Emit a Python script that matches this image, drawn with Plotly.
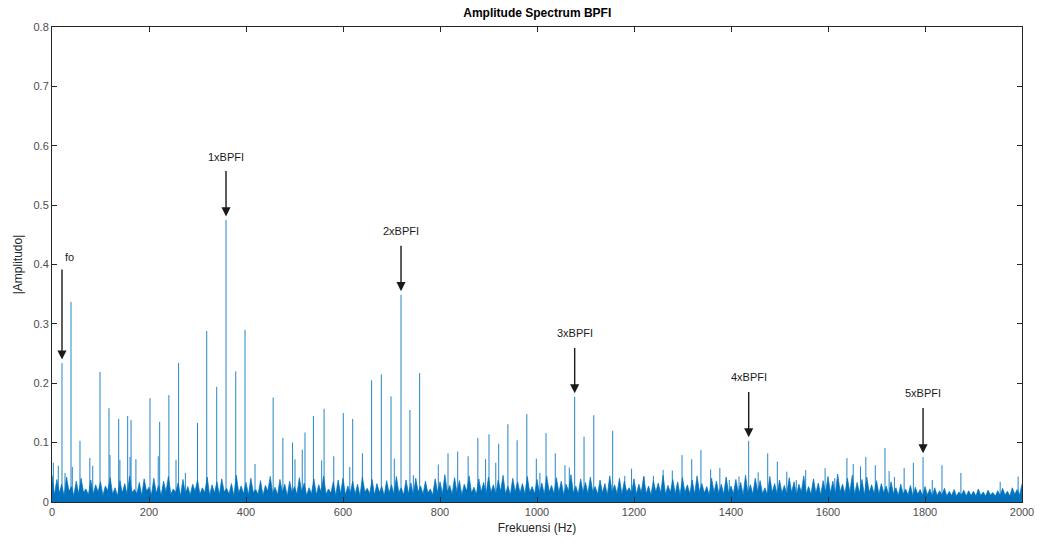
import plotly.graph_objects as go

# ---- data ----
# discrete spectral lines (Hz, |amplitude|)
peak_freq = [2.7, 13, 20.6, 26.8, 39.2, 41.9, 57.7, 78, 84, 99, 117.5, 119.6, 137.5, 140,
             156, 161, 163, 173, 202, 219, 222, 241, 255.7, 261, 275, 300, 319, 339.6,
             358.8, 378.8, 398, 418.6, 456, 476, 496, 501, 516, 521.6, 539, 556, 561,
             581, 600.6, 614, 620, 640, 659, 679, 699, 705.8, 719.6, 738, 745, 758,
             796.5, 816.5, 836.5, 858, 878, 894, 901, 915, 921, 940, 959, 979, 998.6,
             1006, 1018.6, 1037.7, 1057.7, 1066.6, 1077.7, 1097, 1117, 1156, 1181, 1195,
             1220.6, 1240, 1260, 1279, 1299, 1319, 1338, 1358, 1377, 1396.5, 1416.5,
             1436.5, 1456, 1475.7, 1495.5, 1515, 1534.6, 1554, 1594, 1614, 1639, 1652,
             1667, 1678, 1697.5, 1717.5, 1726, 1737, 1757, 1776, 1796, 1815, 1835, 1874,
             1955, 1992]
peak_amp = [0.066, 0.061, 0.234, 0.049, 0.337, 0.059, 0.103, 0.074, 0.061, 0.219, 0.158, 0.079, 0.140, 0.071,
            0.145, 0.076, 0.138, 0.072, 0.175, 0.077, 0.135, 0.180, 0.071, 0.234, 0.049, 0.133, 0.288, 0.194,
            0.475, 0.220, 0.290, 0.064, 0.176, 0.108, 0.100, 0.072, 0.088, 0.117, 0.145, 0.070, 0.157,
            0.077, 0.150, 0.059, 0.140, 0.082, 0.205, 0.215, 0.178, 0.073, 0.349, 0.155, 0.045, 0.217,
            0.063, 0.082, 0.085, 0.077, 0.108, 0.072, 0.114, 0.066, 0.098, 0.131, 0.104, 0.148, 0.073,
            0.049, 0.116, 0.082, 0.062, 0.058, 0.177, 0.110, 0.146, 0.120, 0.044, 0.056,
            0.043, 0.044, 0.054, 0.053, 0.079, 0.072, 0.0875, 0.055, 0.057, 0.037, 0.043,
            0.103, 0.050, 0.082, 0.068, 0.051, 0.037, 0.054, 0.057, 0.040, 0.074, 0.064,
            0.060, 0.076, 0.062, 0.091, 0.052, 0.042, 0.057, 0.066, 0.076, 0.037, 0.062, 0.049,
            0.034, 0.043]

# broadband noise floor, read every 5 Hz from 0 to 2000 Hz
noise_step_hz = 5
noise_level = [
    0.045, 0.012, 0.038, 0.015, 0.030, 0.010, 0.042, 0.018, 0.026, 0.011, 0.035, 0.014, 0.040, 0.016, 0.022, 0.012, 0.037, 0.013, 0.029, 0.017,
    0.034, 0.011, 0.027, 0.019, 0.041, 0.013, 0.024, 0.010, 0.036, 0.015, 0.031, 0.012, 0.044, 0.016, 0.021, 0.014, 0.033, 0.011, 0.039, 0.018,
    0.025, 0.012, 0.040, 0.015, 0.028, 0.011, 0.035, 0.017, 0.043, 0.013, 0.022, 0.016, 0.032, 0.010, 0.038, 0.014, 0.026, 0.012, 0.030, 0.018,
    0.037, 0.013, 0.024, 0.016, 0.042, 0.011, 0.029, 0.015, 0.034, 0.012, 0.039, 0.017, 0.023, 0.013, 0.031, 0.010, 0.045, 0.015, 0.027, 0.014,
    0.033, 0.012, 0.040, 0.016, 0.021, 0.013, 0.036, 0.011, 0.028, 0.018, 0.043, 0.014, 0.025, 0.012, 0.038, 0.016, 0.030, 0.010, 0.035, 0.015,
    0.026, 0.013, 0.041, 0.017, 0.032, 0.011, 0.024, 0.014, 0.039, 0.012, 0.029, 0.016, 0.044, 0.013, 0.022, 0.015, 0.034, 0.011, 0.037, 0.014,
    0.040, 0.012, 0.027, 0.015, 0.035, 0.013, 0.030, 0.010, 0.042, 0.017, 0.023, 0.014, 0.038, 0.012, 0.031, 0.016, 0.026, 0.011, 0.036, 0.015,
    0.029, 0.013, 0.043, 0.016, 0.024, 0.012, 0.037, 0.014, 0.032, 0.011, 0.040, 0.017, 0.027, 0.013, 0.035, 0.015, 0.022, 0.012, 0.039, 0.016,
    0.034, 0.014, 0.046, 0.017, 0.028, 0.013, 0.041, 0.016, 0.036, 0.012, 0.030, 0.018, 0.044, 0.015, 0.025, 0.013, 0.039, 0.017, 0.033, 0.014,
    0.042, 0.016, 0.029, 0.013, 0.037, 0.018, 0.045, 0.014, 0.027, 0.012, 0.040, 0.017, 0.034, 0.015, 0.031, 0.013, 0.043, 0.016, 0.026, 0.014,
    0.038, 0.015, 0.032, 0.013, 0.044, 0.017, 0.028, 0.014, 0.041, 0.016, 0.035, 0.012, 0.030, 0.018, 0.046, 0.015, 0.027, 0.013, 0.039, 0.016,
    0.033, 0.014, 0.042, 0.017, 0.026, 0.013, 0.037, 0.015, 0.031, 0.012, 0.044, 0.016, 0.029, 0.014, 0.040, 0.013, 0.035, 0.017, 0.024, 0.015,
    0.039, 0.013, 0.030, 0.016, 0.043, 0.014, 0.027, 0.012, 0.036, 0.017, 0.032, 0.015, 0.045, 0.013, 0.028, 0.016, 0.038, 0.014, 0.034, 0.012,
    0.041, 0.016, 0.029, 0.014, 0.037, 0.013, 0.044, 0.017, 0.031, 0.015, 0.026, 0.012, 0.040, 0.016, 0.035, 0.014, 0.030, 0.013, 0.042, 0.015,
    0.027, 0.014, 0.038, 0.016, 0.033, 0.012, 0.045, 0.015, 0.029, 0.013, 0.040, 0.017, 0.036, 0.014, 0.024, 0.012, 0.043, 0.016, 0.031, 0.013,
    0.037, 0.015, 0.028, 0.013, 0.041, 0.016, 0.034, 0.012, 0.030, 0.017, 0.044, 0.014, 0.026, 0.013, 0.039, 0.015, 0.032, 0.012, 0.036, 0.016,
    0.043, 0.015, 0.035, 0.013, 0.047, 0.017, 0.030, 0.014, 0.040, 0.016, 0.045, 0.013, 0.033, 0.015, 0.038, 0.012, 0.042, 0.016, 0.029, 0.014,
    0.036, 0.013, 0.031, 0.015, 0.027, 0.012, 0.034, 0.014, 0.024, 0.011, 0.030, 0.013, 0.022, 0.012, 0.028, 0.010, 0.025, 0.013, 0.021, 0.011,
    0.026, 0.012, 0.022, 0.010, 0.024, 0.011, 0.019, 0.012, 0.023, 0.010, 0.018, 0.011, 0.021, 0.010, 0.017, 0.012, 0.020, 0.010, 0.019, 0.011,
    0.018, 0.010, 0.022, 0.011, 0.017, 0.010, 0.020, 0.012, 0.016, 0.010, 0.019, 0.011, 0.023, 0.012, 0.018, 0.010, 0.024, 0.013, 0.021, 0.012,
    0.030]

# marked harmonics
marker_labels = ["fo", "1xBPFI", "2xBPFI", "3xBPFI", "4xBPFI", "5xBPFI"]
marker_freq = [20.6, 358.8, 719.6, 1077.7, 1436.5, 1796]
marker_amp = [0.234, 0.475, 0.349, 0.177, 0.103, 0.076]

x_ticks = [0, 200, 400, 600, 800, 1000, 1200, 1400, 1600, 1800, 2000]
y_ticks = [0, 0.1, 0.2, 0.3, 0.4, 0.5, 0.6, 0.7, 0.8]

BLUE = "#0072BD"
FONT = "Liberation Sans, Arial, Helvetica, sans-serif"

fig = go.Figure()

# noise floor
noise_freq = [i * noise_step_hz for i in range(len(noise_level))]
fig.add_trace(go.Scatter(x=noise_freq, y=noise_level, mode="lines",
                         line=dict(color=BLUE, width=0.7), fill="tozeroy",
                         fillcolor=BLUE, hoverinfo="skip", showlegend=False))

# spectral lines as thin stems
sx, sy = [], []
for f, a in zip(peak_freq, peak_amp):
    sx += [f, f, None]
    sy += [0, a, None]
fig.add_trace(go.Scatter(x=sx, y=sy, mode="lines",
                         line=dict(color=BLUE, width=1.0), opacity=0.85,
                         showlegend=False))

# arrows + labels (arrow from label down to just above the line tip)
ann = []
for lab, f, a in zip(marker_labels, marker_freq, marker_amp):
    gap = 0.16 if lab == "fo" else 0.085
    head = a + 0.006
    tail = a + gap
    ann.append(dict(x=f, y=head, ax=f, ay=tail, xref="x", yref="y", axref="x", ayref="y",
                    text="", showarrow=True, arrowhead=2, arrowsize=1.3, arrowwidth=1.4,
                    arrowcolor="#1a1a1a"))
    if lab == "fo":
        ann.append(dict(x=f, y=tail, xref="x", yref="y", text=lab, showarrow=False,
                        xanchor="left", yanchor="bottom", xshift=1, yshift=3,
                        font=dict(family=FONT, size=11, color="#1a1a1a")))
    else:
        ann.append(dict(x=f, y=tail, xref="x", yref="y", text=lab, showarrow=False,
                        xanchor="center", yanchor="bottom", yshift=5,
                        font=dict(family=FONT, size=11, color="#1a1a1a")))

axis_common = dict(showgrid=False, zeroline=False, ticks="inside", ticklen=5,
                   tickcolor="#262626", showline=True, linecolor="#262626", linewidth=1,
                   mirror="ticks", automargin=False,
                   tickfont=dict(family=FONT, size=11, color="#4d4d4d"))

fig.update_layout(
    width=1040, height=543,
    margin=dict(l=52, r=18, t=27, b=41),
    paper_bgcolor="white", plot_bgcolor="white",
    title=dict(text="<b>Amplitude Spectrum BPFI</b>", x=0.5166, xanchor="center",
               y=0.985, yanchor="top", font=dict(family=FONT, size=12, color="black")),
    xaxis=dict(range=[0, 2000], tickvals=x_ticks, title=dict(text="Frekuensi (Hz)", standoff=6,
               font=dict(family=FONT, size=12, color="#262626")), **axis_common),
    yaxis=dict(range=[0, 0.8], tickvals=y_ticks, title=dict(text="|Amplitudo|", standoff=8,
               font=dict(family=FONT, size=12, color="#262626")), **axis_common),
    annotations=ann,
)

fig.write_html("out.html")
